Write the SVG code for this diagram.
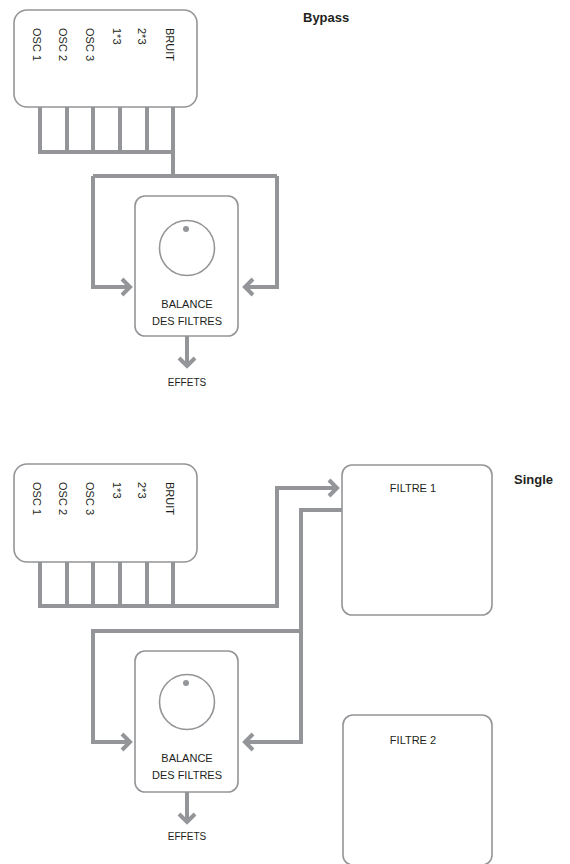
<svg xmlns="http://www.w3.org/2000/svg" width="570" height="864" viewBox="0 0 570 864">
<style>
.box{fill:#fff;stroke:#939598;stroke-width:1.6}
.ln{fill:none;stroke:#939598;stroke-width:4}
.ah{fill:none;stroke:#939598;stroke-width:4;stroke-linejoin:miter}
.t{font-family:"Liberation Sans",Arial,sans-serif;font-size:11px;fill:#231f20}
.tc{text-anchor:middle}
.h{font-family:"Liberation Sans",Arial,sans-serif;font-size:13px;font-weight:bold;fill:#231f20}
</style>
<rect width="570" height="864" fill="#fff"/>
<text class="h" x="303" y="22">Bypass</text>
<text class="h" x="514" y="484">Single</text>
<g id="connectors">
  <!-- top section -->
  <path class="ln" d="M40 107V152H175M67 107V152M93 107V152M120 107V152M147 107V152M173 107V176"/>
  <path class="ln" d="M93 176H277M93 176V287H129M277 176V287H246M187 336V365"/>
  <path class="ah" d="M122 279L130 287L122 295"/>
  <path class="ah" d="M253 279L245 287L253 295"/>
  <path class="ah" d="M179 358L187 366L195 358"/>
  <!-- bottom section -->
  <path class="ln" d="M40 562V606H277V488H336M67 562V606M93 562V606M120 562V606M147 562V606M173 562V606"/>
  <path class="ah" d="M329 480L337 488L329 496"/>
  <path class="ln" d="M342 510H301V742H246M301 631H93V742H129M187 792V821"/>
  <path class="ah" d="M122 734L130 742L122 750"/>
  <path class="ah" d="M253 734L245 742L253 750"/>
  <path class="ah" d="M179 814L187 822L195 814"/>
</g>
<g id="sources1">
  <rect class="box" x="14" y="10" width="183" height="97" rx="13"/>
  <text class="t" transform="translate(33 28) rotate(90)">OSC 1</text>
  <text class="t" transform="translate(59 28) rotate(90)">OSC 2</text>
  <text class="t" transform="translate(86 28) rotate(90)">OSC 3</text>
  <text class="t" transform="translate(113 28) rotate(90)">1*3</text>
  <text class="t" transform="translate(138 28) rotate(90)">2*3</text>
  <text class="t" transform="translate(166 28) rotate(90)">BRUIT</text>
</g>
<g id="balance1">
  <rect class="box" x="135" y="196" width="103" height="140" rx="10"/>
  <circle cx="187" cy="248" r="27.5" fill="none" stroke="#939598" stroke-width="1.6"/>
  <circle cx="186" cy="229" r="3" fill="#939598"/>
  <text class="t tc" x="187" y="308">BALANCE</text>
  <text class="t tc" x="187" y="325">DES FILTRES</text>
</g>
<text class="t tc" x="187" y="386" style="font-size:10px">EFFETS</text>
<g id="sources2">
  <rect class="box" x="14" y="464" width="183" height="98" rx="13"/>
  <text class="t" transform="translate(33 482) rotate(90)">OSC 1</text>
  <text class="t" transform="translate(59 482) rotate(90)">OSC 2</text>
  <text class="t" transform="translate(86 482) rotate(90)">OSC 3</text>
  <text class="t" transform="translate(113 482) rotate(90)">1*3</text>
  <text class="t" transform="translate(138 482) rotate(90)">2*3</text>
  <text class="t" transform="translate(166 482) rotate(90)">BRUIT</text>
</g>
<g id="filtre1">
  <rect class="box" x="342" y="465" width="150" height="150" rx="10"/>
  <text class="t tc" x="413" y="492">FILTRE 1</text>
</g>
<g id="balance2">
  <rect class="box" x="135" y="651" width="103" height="141" rx="10"/>
  <circle cx="187" cy="702" r="27.5" fill="none" stroke="#939598" stroke-width="1.6"/>
  <circle cx="186" cy="683" r="3" fill="#939598"/>
  <text class="t tc" x="187" y="762">BALANCE</text>
  <text class="t tc" x="187" y="779">DES FILTRES</text>
</g>
<text class="t tc" x="187" y="840" style="font-size:10px">EFFETS</text>
<g id="filtre2">
  <rect class="box" x="343" y="715" width="149" height="150" rx="10"/>
  <text class="t tc" x="413" y="744">FILTRE 2</text>
</g>
</svg>
